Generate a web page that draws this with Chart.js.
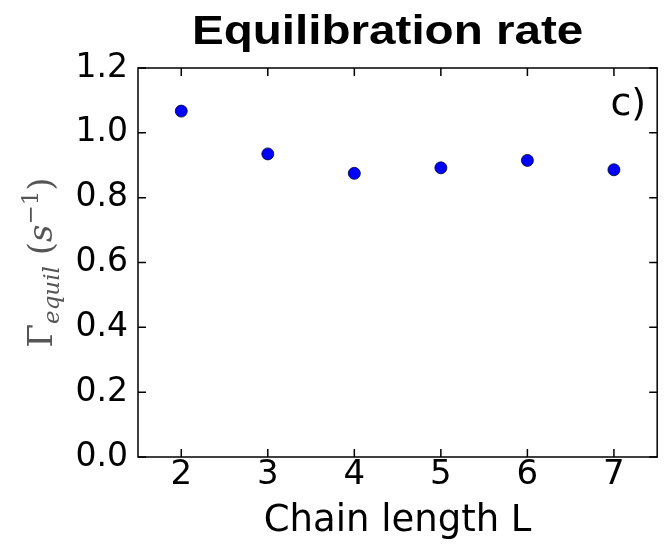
<!DOCTYPE html>
<html>
<head>
<meta charset="utf-8">
<script src="https://cdn.jsdelivr.net/npm/chart.js@4/dist/chart.umd.min.js"></script>
<style>
  body { margin: 0; background: #fff; }
</style>
</head>
<body>
<canvas id="rate" width="664" height="544"></canvas>
<script>
var chainLength = [2, 3, 4, 5, 6, 7];
var equilRate = [1.067, 0.935, 0.875, 0.892, 0.915, 0.886];
var xTicks = [2, 3, 4, 5, 6, 7];
var yTicks = [0.0, 0.2, 0.4, 0.6, 0.8, 1.0, 1.2];

var points = [];
for (var i in chainLength) {
  points.push({x: chainLength[i], y: equilRate[i]});
}

// frame, inward ticks and the extra texts
var decorations = {
  id: 'decorations',
  afterDraw: function(chart) {
    var ctx = chart.ctx;
    var a = chart.chartArea;
    var sx = chart.scales.x, sy = chart.scales.y;
    ctx.save();
    ctx.strokeStyle = '#000';
    ctx.lineWidth = 1.5;
    ctx.strokeRect(a.left, a.top, a.right - a.left, a.bottom - a.top);
    ctx.beginPath();
    xTicks.forEach(function(v) {
      var px = sx.getPixelForValue(v);
      ctx.moveTo(px, a.bottom); ctx.lineTo(px, a.bottom - 8);
      ctx.moveTo(px, a.top); ctx.lineTo(px, a.top + 8);
    });
    yTicks.forEach(function(v) {
      var py = sy.getPixelForValue(v);
      ctx.moveTo(a.left, py); ctx.lineTo(a.left + 8, py);
      ctx.moveTo(a.right, py); ctx.lineTo(a.right - 8, py);
    });
    ctx.stroke();

    ctx.fillStyle = '#000';
    ctx.font = '38px "DejaVu Sans"';
    ctx.textAlign = 'right';
    ctx.textBaseline = 'alphabetic';
    ctx.fillText('c)', a.right - 11, a.top + 47);

    // title, a bit wider than the plain font
    ctx.save();
    ctx.font = 'bold 40px "Liberation Sans"';
    ctx.textAlign = 'center';
    ctx.translate((a.left + a.right) / 2 - 10, 44);
    ctx.scale(1.19, 1);
    ctx.fillText('Equilibration rate', 0, 0);
    ctx.restore();

    // y label: Γ_equil (s^-1)
    var parts = [
      {t: '\u0393', f: '34px "DejaVu Serif"', dy: 0},
      {t: 'equil', f: 'italic 23px "DejaVu Serif"', dy: 7},
      {t: ' (', f: '34px "DejaVu Serif"', dy: 0},
      {t: 's', f: 'italic 34px "DejaVu Serif"', dy: 0},
      {t: '\u22121', f: '23px "DejaVu Serif"', dy: -14},
      {t: ')', f: '34px "DejaVu Serif"', dy: 0}
    ];
    var total = 0;
    parts.forEach(function(p) { ctx.font = p.f; p.w = ctx.measureText(p.t).width; total += p.w; });
    ctx.translate(52, (a.top + a.bottom) / 2);
    ctx.rotate(-Math.PI / 2);
    ctx.fillStyle = '#555';
    ctx.textAlign = 'left';
    var x0 = -total / 2;
    parts.forEach(function(p) {
      ctx.font = p.f;
      ctx.fillText(p.t, x0, p.dy);
      x0 += p.w;
    });
    ctx.restore();
  }
};

var ctx = document.getElementById('rate');
var rateChart = new Chart(ctx, {
  type: 'scatter',
  data: {
    datasets: [{
      label: 'equilibration rate',
      data: points,
      backgroundColor: '#0000ff',
      borderColor: '#000033',
      borderWidth: 0.8,
      pointRadius: 6
    }]
  },
  options: {
    responsive: false,
    animation: false,
    devicePixelRatio: 1,
    layout: { padding: { top: 68, right: 2, left: 0, bottom: 0 } },
    plugins: {
      legend: { display: false },
      tooltip: { enabled: false }
    },
    scales: {
      x: {
        type: 'linear',
        min: 1.5,
        max: 7.5,
        afterBuildTicks: function(s) { s.ticks = xTicks.map(function(v) { return {value: v}; }); },
        afterFit: function(s) { s.height = 87; },
        grid: { display: false, drawTicks: false },
        border: { display: false },
        ticks: { color: '#000', font: { family: 'DejaVu Sans', size: 34 }, padding: -2 },
        title: {
          display: true,
          text: 'Chain length L',
          color: '#000',
          font: { family: 'DejaVu Sans', size: 37 },
          padding: { top: 0, bottom: 0 }
        }
      },
      y: {
        min: 0,
        max: 1.2,
        afterBuildTicks: function(s) { s.ticks = yTicks.map(function(v) { return {value: v}; }); },
        afterFit: function(s) { s.width = 138; },
        grid: { display: false, drawTicks: false },
        border: { display: false },
        ticks: {
          color: '#000',
          font: { family: 'DejaVu Sans', size: 33 },
          padding: 10,
          callback: function(v) { return v.toFixed(1); }
        }
      }
    }
  },
  plugins: [decorations]
});
</script>
</body>
</html>
